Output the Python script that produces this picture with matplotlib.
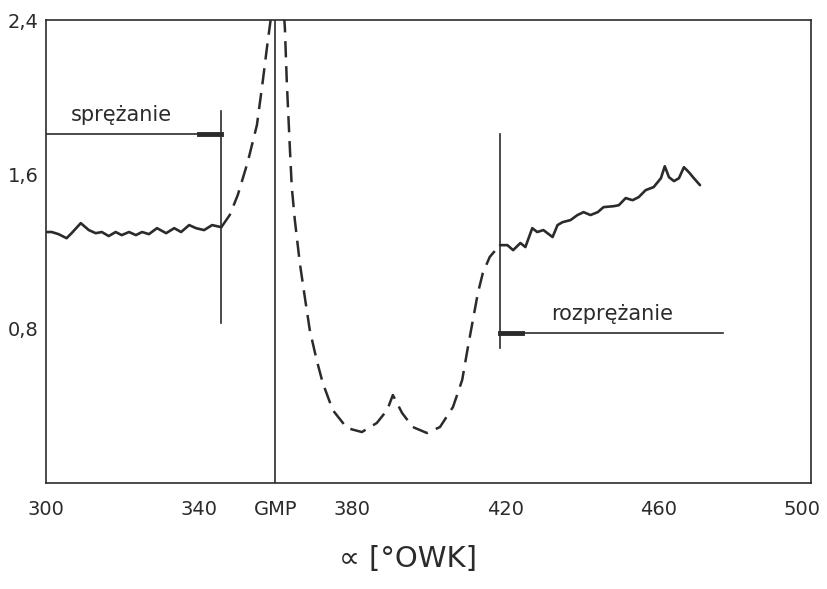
import matplotlib
matplotlib.use("Agg")
import matplotlib.pyplot as plt
import matplotlib.transforms as mtransforms

# values (x in degrees OWK, y in the plot's own units)
x_spr = [300.0, 301.6, 303.4, 305.5, 306.8, 309.2, 311.3, 313.1, 314.7, 316.5, 318.3, 319.9,
         321.8, 323.6, 325.2, 327.0, 329.1, 331.5, 333.6, 335.4, 337.5, 339.3, 341.4, 343.5, 345.9]
y_spr = [1.301, 1.301, 1.290, 1.269, 1.295, 1.347, 1.311, 1.295, 1.301, 1.280, 1.301, 1.285,
         1.301, 1.285, 1.301, 1.290, 1.321, 1.295, 1.321, 1.301, 1.337, 1.321, 1.311, 1.337, 1.326]

x_up = [345.9, 348.1, 350.2, 352.8, 355.2, 356.7, 358.0, 358.6, 358.9]
y_up = [1.326, 1.389, 1.493, 1.664, 1.856, 2.079, 2.286, 2.374, 2.42]

x_dip = [362.3, 362.5, 363.0, 363.8, 364.3, 365.1, 366.4, 367.7, 369.0, 370.8, 372.4, 375.0,
         378.7, 382.6, 386.5, 389.2, 390.7, 393.1, 395.9, 399.6, 403.0, 406.4, 408.8, 410.3,
         411.6, 412.9, 414.2, 416.0, 418.2, 418.7]
y_dip = [2.42, 2.359, 2.079, 1.737, 1.534, 1.363, 1.140, 0.964, 0.793, 0.637, 0.518, 0.378,
         0.285, 0.264, 0.311, 0.378, 0.456, 0.363, 0.290, 0.259, 0.290, 0.394, 0.534, 0.705,
         0.845, 0.985, 1.089, 1.172, 1.223, 1.233]

x_roz = [418.7, 420.6, 422.1, 424.0, 425.3, 427.1, 428.4, 430.0, 432.4, 433.7, 435.0, 437.1,
         438.9, 440.5, 442.3, 444.2, 445.7, 448.4, 449.7, 451.5, 453.3, 454.9, 456.7, 458.8,
         460.7, 461.7, 462.8, 464.1, 465.4, 466.7, 468.0, 469.3, 470.9]
y_roz = [1.233, 1.233, 1.207, 1.244, 1.223, 1.321, 1.301, 1.311, 1.275, 1.337, 1.352, 1.363,
         1.389, 1.404, 1.389, 1.404, 1.430, 1.435, 1.440, 1.477, 1.466, 1.482, 1.518, 1.534,
         1.580, 1.642, 1.585, 1.565, 1.580, 1.637, 1.611, 1.580, 1.544]

x_ticks = [300, 340, 360, 380, 420, 460, 500]
x_labels = ["300", "340", "GMP", "380", "420", "460", "500"]
y_ticks = [0.8, 1.6, 2.4]
y_labels = ["0,8", "1,6", "2,4"]

ink = "#2b2b2b"
plt.rcParams['font.family'] = ['DejaVu Sans']

fig = plt.figure(figsize=(8.28, 5.89), dpi=100)
ax = fig.add_axes([0.055, 0.18, 0.925, 0.786])
ax.set_xlim(300, 500)
ax.set_ylim(0, 2.4)

ax.plot(x_spr, y_spr, color=ink, lw=1.9, solid_joinstyle='round', solid_capstyle='round')
ax.plot(x_roz, y_roz, color=ink, lw=1.9, solid_joinstyle='round', solid_capstyle='round')
ax.plot(x_up, y_up, color=ink, lw=1.8, dashes=(6.5, 3.5), dash_joinstyle='round')
ax.plot(x_dip, y_dip, color=ink, lw=1.8, dashes=(6.5, 3.5), dash_joinstyle='round')

# GMP line
ax.axvline(360, color=ink, lw=1.2)

# compression marker
ax.plot([300, 345.9], [1.81, 1.81], color=ink, lw=1.2)
ax.plot([340.2, 345.9], [1.81, 1.81], color=ink, lw=3.5)
ax.plot([345.9, 345.9], [0.83, 1.93], color=ink, lw=1.2)
ax.text(306.5, 1.875, "sprężanie", fontsize=15, color=ink)

# expansion marker
ax.plot([418.7, 477.0], [0.777, 0.777], color=ink, lw=1.2)
ax.plot([418.7, 424.5], [0.777, 0.777], color=ink, lw=3.5)
ax.plot([418.7, 418.7], [0.70, 1.81], color=ink, lw=1.2)
ax.text(432.0, 0.845, "rozprężanie", fontsize=15, color=ink)

for s in ax.spines.values():
    s.set_color(ink)
    s.set_linewidth(1.2)

ax.set_xticks(x_ticks)
ax.set_xticklabels(x_labels)
ax.set_yticks(y_ticks)
ax.set_yticklabels(y_labels)
ax.tick_params(length=0, labelsize=14, colors=ink, pad=12)
ax.tick_params(axis='y', pad=5)

# keep the last label inside the picture, as in the scan
last = ax.get_xticklabels()[-1]
last.set_transform(last.get_transform() + mtransforms.ScaledTranslation(-9 / 100, 0, fig.dpi_scale_trans))

ax.set_xlabel("∝ [°OWK]", fontsize=21, color=ink)
ax.xaxis.set_label_coords(0.473, -0.135)

fig.savefig("out.png", dpi=100)
